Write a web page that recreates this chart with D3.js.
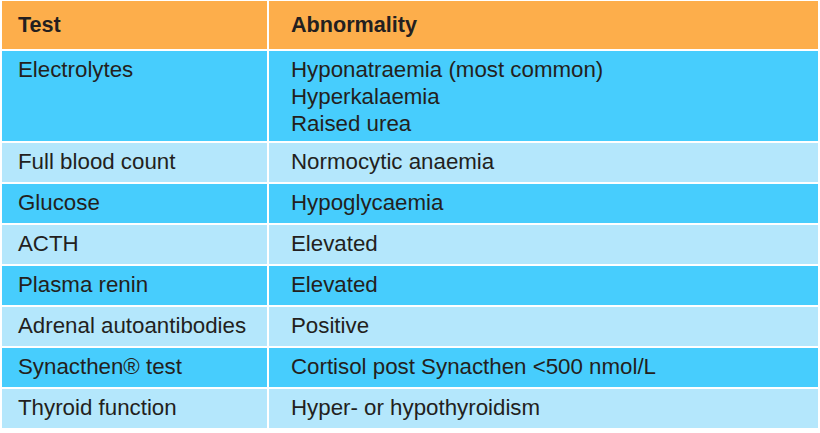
<!DOCTYPE html>
<head>
  <meta charset="utf-8">
  <script src="https://d3js.org/d3.v7.min.js"></script>
  <style>
    body { margin:0; background:#fff; }
    text { font-family: "Liberation Sans", Arial, sans-serif; fill:#231f20; }
    .head { font-weight:bold; font-size:21.6px; }
    .cell { font-size:22.3px; }
  </style>
</head>
<body>
  <script>
    var headers = ["Test", "Abnormality"];
    var tests = ["Electrolytes", "Full blood count", "Glucose", "ACTH", "Plasma renin",
                 "Adrenal autoantibodies", "Synacthen\u00AE test", "Thyroid function"];
    var abnormalities = [
      ["Hyponatraemia (most common)", "Hyperkalaemia", "Raised urea"],
      ["Normocytic anaemia"],
      ["Hypoglycaemia"],
      ["Elevated"],
      ["Elevated"],
      ["Positive"],
      ["Cortisol post Synacthen <500 nmol/L"],
      ["Hyper- or hypothyroidism"]
    ];

    var svg = d3.select("body").append("svg")
      .attr("width", 820)
      .attr("height", 433);

    var colX = [1, 268, 819];
    var textPad = [17, 23];
    var lineH = 27;

    // row tops built from line counts
    var tops = [50];
    abnormalities.forEach(function(a, i) {
      tops.push(tops[i] + 41 + (a.length - 1) * 25.5);
    });

    // header
    var hg = svg.append("g");
    hg.selectAll("rect").data(headers).enter().append("rect")
      .attr("x", function(d, i) { return colX[i] + 1; })
      .attr("y", 1)
      .attr("width", function(d, i) { return colX[i + 1] - colX[i] - 2; })
      .attr("height", 48)
      .attr("fill", "#fdae4b");
    hg.selectAll("text").data(headers).enter().append("text")
      .attr("class", "head")
      .attr("x", function(d, i) { return colX[i] + textPad[i]; })
      .attr("y", 32)
      .text(function(d) { return d; });

    var rows = svg.selectAll("g.row").data(tests).enter().append("g")
      .attr("class", "row")
      .attr("transform", function(d, i) { return "translate(0," + tops[i] + ")"; });

    rows.each(function(d, i) {
      var g = d3.select(this);
      var h = tops[i + 1] - tops[i];
      var fill = i % 2 === 0 ? "#47cdfd" : "#b4e7fc";
      [0, 1].forEach(function(c) {
        g.append("rect")
          .attr("x", colX[c] + 1)
          .attr("y", 1)
          .attr("width", colX[c + 1] - colX[c] - 2)
          .attr("height", h - 2)
          .attr("fill", fill);
      });
      g.append("text")
        .attr("class", "cell")
        .attr("x", colX[0] + textPad[0])
        .attr("y", 27)
        .text(d);
      g.selectAll("text.ab").data(abnormalities[i]).enter().append("text")
        .attr("class", "cell ab")
        .attr("x", colX[1] + textPad[1])
        .attr("y", function(t, j) { return 27 + j * lineH; })
        .text(function(t) { return t; });
    });
  </script>
</body>
